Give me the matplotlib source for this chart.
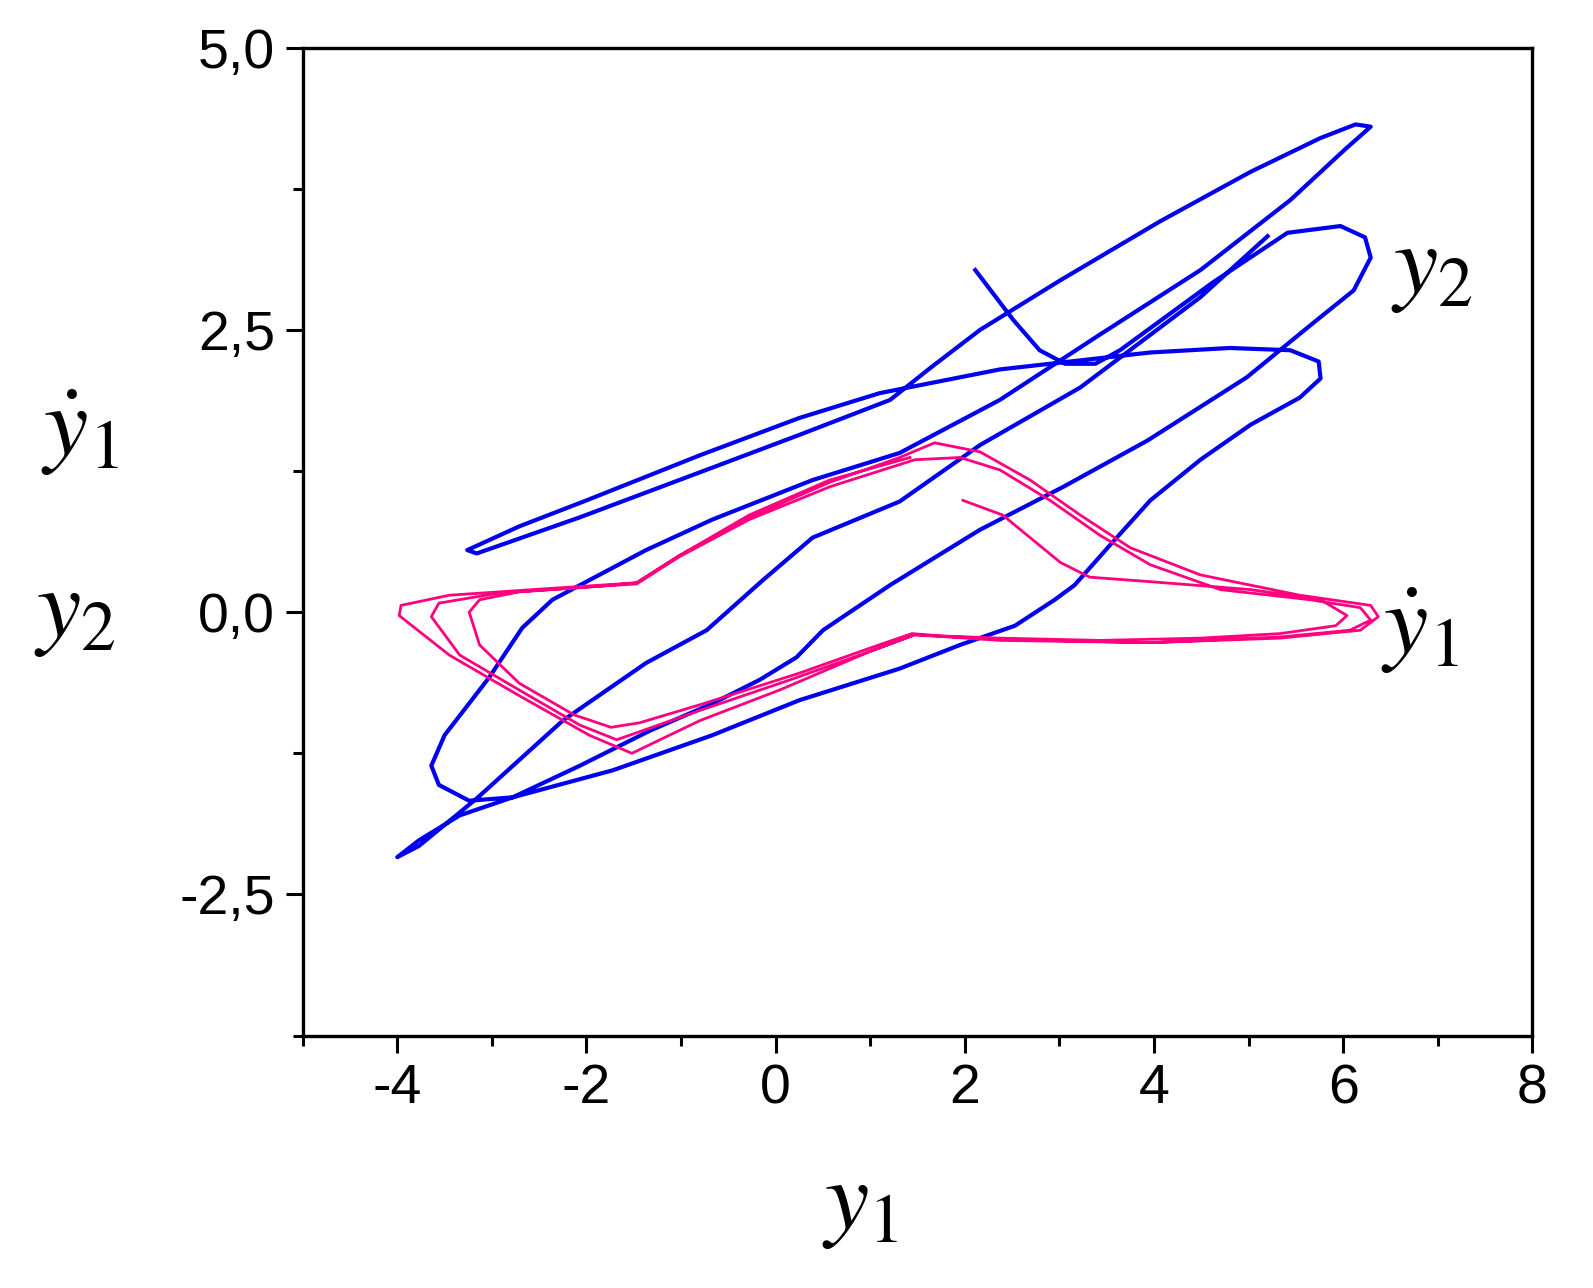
import matplotlib
matplotlib.use("Agg")
import matplotlib.pyplot as plt
from matplotlib.ticker import MultipleLocator, FuncFormatter

plt.rcParams["font.family"] = ["Liberation Sans", "DejaVu Sans"]
plt.rcParams["mathtext.fontset"] = "stix"

# y2 vs y1 (blue trajectory)
y1_blue = [2.11, 2.51, 2.79, 3.06, 3.38, 3.64, 4.62, 5.41, 5.97, 6.23, 6.29, 6.11, 5.68, 4.98,
           3.93, 3.04, 2.16, 1.21, 0.50, 0.22, -0.17, -0.67, -1.33, -2.07, -2.78, -3.24, -3.56,
           -3.64, -3.50, -3.03, -2.68, -2.36, -2.00, -1.37, -0.67, 0.39, 1.31, 2.37, 3.43, 4.49,
           5.44, 6.02, 6.29, 6.13, 5.76, 5.02, 4.06, 3.01, 2.16, 1.63, 1.21, 0.25, -0.67, -2.07,
           -3.16, -3.26, -2.71, -2.00, -0.80, 0.25, 1.10, 2.37, 3.96, 4.80, 5.44, 5.74, 5.76,
           5.54, 5.02, 4.49, 3.96, 3.53, 3.16, 2.95, 2.53, 1.95, 1.31, 0.25, -0.67, -1.72, -2.78,
           -3.34, -3.77, -4.00, -3.77, -3.16, -2.25, -1.37, -0.73, -0.14, 0.39, 1.31, 2.16, 3.22,
           4.49, 5.20]
y2_blue = [3.03, 2.59, 2.32, 2.20, 2.20, 2.32, 2.92, 3.36, 3.42, 3.32, 3.14, 2.85, 2.56, 2.08,
           1.52, 1.11, 0.73, 0.24, -0.16, -0.40, -0.60, -0.81, -1.05, -1.36, -1.64, -1.67, -1.53,
           -1.36, -1.09, -0.58, -0.14, 0.11, 0.27, 0.55, 0.82, 1.17, 1.41, 1.88, 2.46, 3.03,
           3.65, 4.10, 4.30, 4.32, 4.20, 3.90, 3.46, 2.94, 2.50, 2.16, 1.88, 1.57, 1.28, 0.84,
           0.52, 0.55, 0.76, 0.99, 1.39, 1.72, 1.94, 2.15, 2.30, 2.34, 2.32, 2.22, 2.07,
           1.90, 1.66, 1.35, 0.99, 0.59, 0.24, 0.11, -0.12, -0.29, -0.50, -0.78, -1.09, -1.40, -1.64,
           -1.80, -2.02, -2.17, -2.07, -1.65, -0.96, -0.45, -0.16, 0.28, 0.66, 0.98, 1.48, 1.99,
           2.79, 3.33]

# y1-dot vs y1 (pink trajectory)
y1_pink = [1.98, 2.40, 2.69, 3.01, 3.32, 3.96, 5.02, 5.76, 6.04, 5.92, 5.33, 4.49, 3.43, 2.37,
           1.74, 1.44, 0.99, 0.25, -0.80, -1.44, -1.74, -2.13, -2.71, -3.13, -3.24, -3.13, -2.71,
           -1.86, -1.47, -1.02, -0.28, 0.57, 1.47, 1.95, 2.37, 2.90, 3.43, 3.96, 4.70, 5.65, 6.18,
           6.29, 6.07, 5.33, 3.96, 2.37, 1.47, 0.99, 0.15, -0.80, -1.68, -2.07, -2.71, -3.34,
           -3.64, -3.56, -2.92, -1.86, -1.47, -1.02, -0.28, 0.57, 1.31, 1.68, 2.16, 2.69, 3.22,
           3.75, 4.49, 5.54, 6.29, 6.37, 6.18, 5.33, 3.96, 2.37, 1.47, 0.99, 0.04, -0.80, -1.52,
           -1.97, -2.71, -3.45, -3.98, -3.96, -3.45, -2.39, -1.47, -1.02, -0.28, 0.57, 1.42]
y1dot_pink = [0.99, 0.86, 0.66, 0.44, 0.31, 0.27, 0.20, 0.11, -0.03, -0.12, -0.19, -0.23, -0.25,
              -0.23, -0.21, -0.19, -0.32, -0.54, -0.82, -0.98, -1.02, -0.91, -0.63, -0.29, 0.00,
              0.11, 0.18, 0.23, 0.25, 0.49, 0.82, 1.11, 1.35, 1.37, 1.26, 0.99, 0.68, 0.42, 0.20,
              0.11, 0.04, -0.07, -0.16, -0.22, -0.27, -0.24, -0.20, -0.35, -0.60, -0.87, -1.13,
              -1.00, -0.69, -0.38, -0.04, 0.08, 0.17, 0.23, 0.26, 0.50, 0.84, 1.15, 1.37, 1.50,
              1.42, 1.17, 0.86, 0.57, 0.33, 0.15, 0.06, -0.04, -0.16, -0.23, -0.27, -0.25, -0.20,
              -0.35, -0.69, -0.96, -1.25, -1.09, -0.74, -0.38, -0.03, 0.06, 0.15, 0.21, 0.26,
              0.50, 0.86, 1.17, 1.37]

fig = plt.figure(figsize=(15.93, 12.88), dpi=100)
ax = fig.add_axes([0.190, 0.196, 0.772, 0.767])

ax.plot(y1_blue, y2_blue, color="#0000ee", linewidth=3.0, solid_joinstyle="round")
ax.plot(y1_pink, y1dot_pink, color="#ff0080", linewidth=2.0, solid_joinstyle="round")

ax.set_xlim(-5, 8)
ax.set_ylim(-3.75, 5.0)
ax.xaxis.set_major_locator(MultipleLocator(2))
ax.xaxis.set_minor_locator(MultipleLocator(1))
ax.yaxis.set_major_locator(MultipleLocator(2.5))
ax.yaxis.set_minor_locator(MultipleLocator(1.25))
ax.yaxis.set_major_formatter(FuncFormatter(lambda v, p: f"{v:.1f}".replace(".", ",")))
ax.xaxis.set_major_formatter(FuncFormatter(lambda v, p: f"{v:.0f}"))
ax.tick_params(which="major", direction="out", length=12, width=2.2, labelsize=40, pad=8)
ax.tick_params(which="minor", direction="out", length=7, width=2.2)
for s in ax.spines.values():
    s.set_linewidth(2.4)

fig.text(0.05, 0.665, r"$\dot{y}_1$", fontsize=72, ha="center", va="center")
fig.text(0.047, 0.525, r"$y_2$", fontsize=72, ha="center", va="center")
fig.text(0.54, 0.065, r"$y_1$", fontsize=72, ha="center", va="center")
ax.text(6.5, 3.05, r"$y_2$", fontsize=72, ha="left", va="center")
ax.text(6.4, -0.15, r"$\dot{y}_1$", fontsize=72, ha="left", va="center")

fig.savefig("out.png", dpi=100, facecolor="white")
